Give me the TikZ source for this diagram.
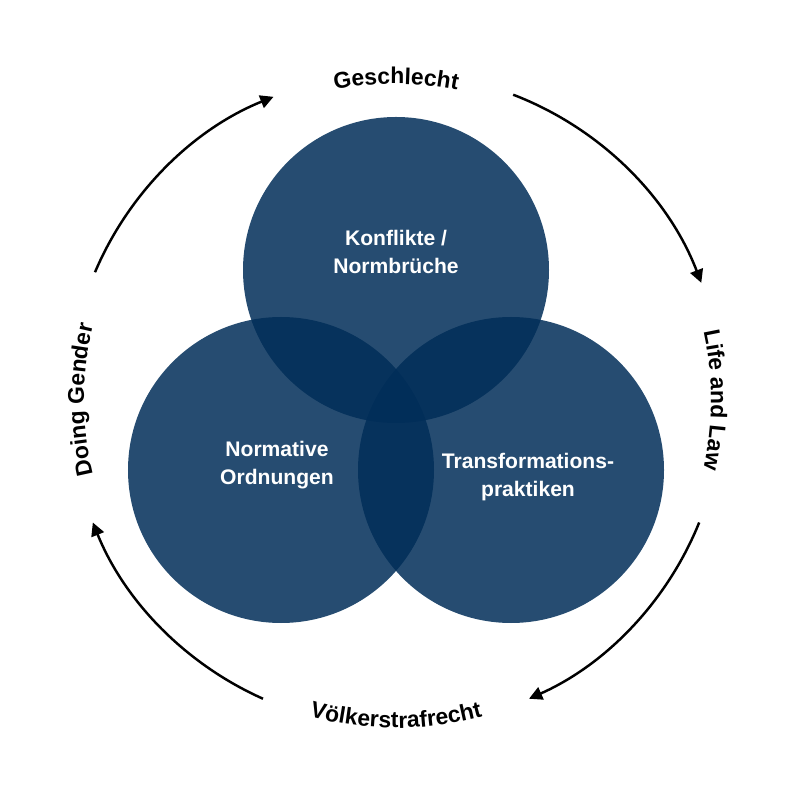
\documentclass[tikz,border=0pt]{standalone}
\usepackage{fontspec}
\setmainfont{Liberation Sans}
\usepackage{tikz}
\usetikzlibrary{arrows.meta,positioning,calc,decorations.text}
\definecolor{navy}{RGB}{0,45,88}

\begin{document}
\begin{tikzpicture}[
  ring/.style={circle, fill=navy, fill opacity=0.85, minimum size=6.12cm, inner sep=0pt},
  inner/.style={font=\bfseries\fontsize{12}{15.5}\selectfont, text=white, align=center},
  arr/.style={-{Triangle[length=7.5pt, width=7.5pt]}, line width=1.4pt},
  curved/.style={decorate, decoration={text along path, text align=center, text={|\bfseries\fontsize{13}{15}\selectfont|#1}}},
]
\useasboundingbox (-7.92,-8) rectangle (7.92,8);

% --- Circles ---
\node[ring] (konf) at (0,2.6) {};
\node[ring] (norm) at (-2.3,-1.4) {};
\node[ring] (trans) at (2.3,-1.4) {};

% --- Circle labels ---
\node[inner] (konftext) at (0,2.96) {Konflikte /\\Normbrüche};
\node[inner] (normtext) at (-2.38,-1.3) {Normative\\Ordnungen};
\node[inner] (transtext) at (2.64,-1.54) {Transformations-\\praktiken};

% --- Outer cycle ---
\coordinate (tl) at (157:6.54);
\coordinate (tr) at (69:6.54);
\coordinate (br) at (-22:6.54);
\coordinate (bl) at (-114:6.54);
\draw[arr] (tl) arc[start angle=157, end angle=112, radius=6.54];
\draw[arr] (tr) arc[start angle=69, end angle=21, radius=6.54];
\draw[arr] (br) arc[start angle=-22, end angle=-66, radius=6.54];
\draw[arr] (bl) arc[start angle=-114, end angle=-158, radius=6.54];

% --- Curved labels ---
\path[curved=Geschlecht] (130:6.32) arc[start angle=130, end angle=50, radius=6.32];
\path[curved=Life and Law] (40:6.3) arc[start angle=40, end angle=-40, radius=6.3];
\path[curved=Völkerstrafrecht] (-130:6.56) arc[start angle=-130, end angle=-50, radius=6.56];
\path[curved=Doing Gender] (220:6.24) arc[start angle=220, end angle=140, radius=6.24];
\end{tikzpicture}
\end{document}
